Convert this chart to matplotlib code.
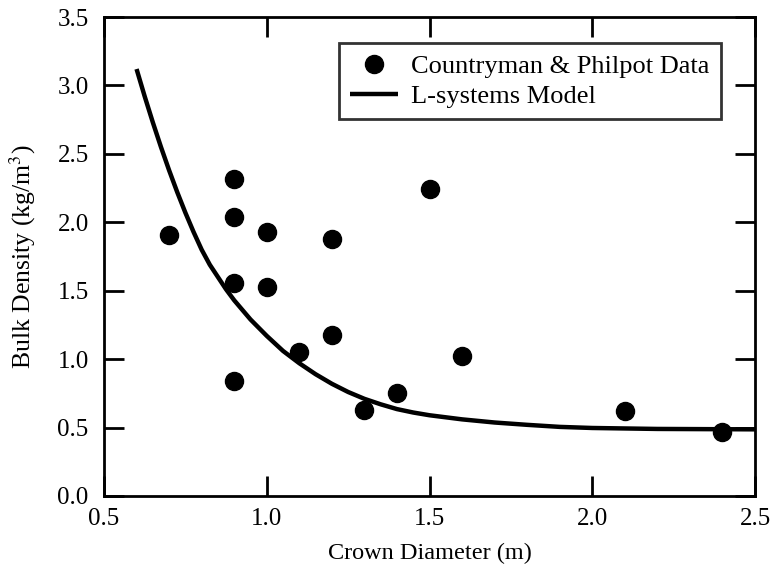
import matplotlib
matplotlib.use("Agg")
import matplotlib.pyplot as plt

# Countryman & Philpot field measurements
crown_diam = [0.7, 0.9, 0.9, 0.9, 0.9, 1.0, 1.0, 1.1, 1.2, 1.2, 1.3, 1.4, 1.5, 1.6, 2.1, 2.4]
bulk_dens = [1.91, 2.32, 2.04, 1.56, 0.84, 1.93, 1.53, 1.05, 1.88, 1.18, 0.63, 0.75, 2.24, 1.02, 0.62, 0.47]

# L-systems model output
model_diam = [0.600, 0.625, 0.650, 0.675, 0.700, 0.725, 0.750, 0.775, 0.800, 0.825,
              0.850, 0.875, 0.900, 0.925, 0.950, 0.975, 1.00, 1.05, 1.10, 1.15,
              1.20, 1.25, 1.30, 1.35, 1.40, 1.45, 1.50, 1.60, 1.70, 1.80,
              1.90, 2.00, 2.20, 2.50]
model_dens = [3.12, 2.92, 2.73, 2.55, 2.38, 2.22, 2.07, 1.93, 1.80, 1.69,
              1.60, 1.51, 1.43, 1.36, 1.29, 1.23, 1.17, 1.06, 0.97, 0.89,
              0.82, 0.76, 0.71, 0.67, 0.635, 0.61, 0.59, 0.56, 0.537, 0.52,
              0.505, 0.497, 0.49, 0.487]

x_ticks = [0.5, 1.0, 1.5, 2.0, 2.5]
y_ticks = [0.0, 0.5, 1.0, 1.5, 2.0, 2.5, 3.0, 3.5]

plt.rcParams["font.family"] = ["Liberation Serif", "DejaVu Serif"]
plt.rcParams["mathtext.fontset"] = "stix"

fig = plt.figure(figsize=(7.75, 5.75), dpi=100)
ax = fig.add_axes([0.1342, 0.1374, 0.8400, 0.8330])

ax.plot(crown_diam, bulk_dens, "o", color="black", markersize=13,
        label="Countryman & Philpot Data", zorder=3)
ax.plot(model_diam, model_dens, "-", color="black", linewidth=3.2,
        solid_joinstyle="round", solid_capstyle="butt",
        label="L-systems Model", zorder=2)

ax.set_xlim(0.5, 2.5)
ax.set_ylim(0.0, 3.5)
ax.set_xticks(x_ticks)
ax.set_yticks(y_ticks)
ax.set_xticklabels([f"{v:.1f}" for v in x_ticks])
ax.set_yticklabels([f"{v:.1f}" for v in y_ticks])
ax.tick_params(direction="in", length=14.5, width=2, labelsize=18,
               top=True, right=True)
ax.tick_params(axis="x", pad=9)
ax.tick_params(axis="y", pad=11)
for s in ax.spines.values():
    s.set_linewidth(2)

ax.set_xlabel("Crown Diameter (m)", fontsize=17.5, labelpad=9)
ax.set_ylabel("Bulk Density (kg/m$^3$)", fontsize=18.5, labelpad=14)

leg = ax.legend(loc="upper right", bbox_to_anchor=(0.947, 0.945), fontsize=19,
                frameon=True, fancybox=False, borderpad=0.42, handlelength=1.8,
                handletextpad=0.5, labelspacing=0.25, borderaxespad=0)
leg.get_frame().set_edgecolor("black")
leg.get_frame().set_linewidth(2)

fig.savefig("out.png", dpi=100)
